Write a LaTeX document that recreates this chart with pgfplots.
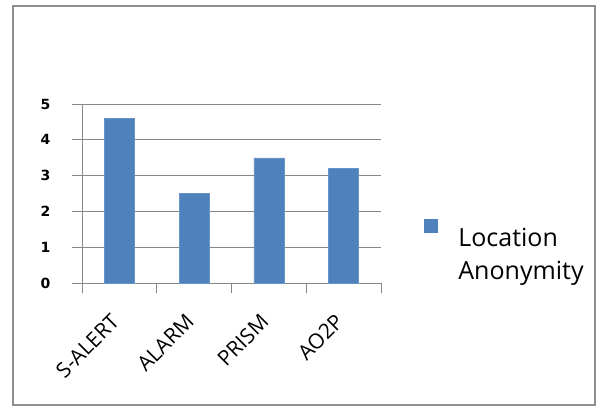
\documentclass[border=0pt]{standalone}
\usepackage{fontspec}
\setmainfont{Open Sans}
\newfontfamily\tickfont{DejaVu Sans Bold}
\usepackage{pgfplots}
\pgfplotsset{compat=1.18}
\definecolor{barblue}{HTML}{4F81BD}
\definecolor{gridgray}{HTML}{878787}
\definecolor{framegray}{HTML}{8E8E8E}
\begin{document}
\begin{tikzpicture}[x=1pt,y=1pt]
\path[use as bounding box] (0,0) rectangle (604,408);
\draw[framegray, line width=1.5pt] (13,3) rectangle (595,402);
\begin{axis}[
  at={(82pt,124.7pt)}, anchor=south west,
  scale only axis, width=299pt, height=179.3pt,
  xmin=-0.5, xmax=3.5, ymin=0, ymax=5,
  axis lines*=left,
  axis line style={gridgray, line width=1pt},
  ymajorgrids, grid style={gridgray, line width=1pt},
  tick align=outside, major tick length=10pt,
  tick style={gridgray, line width=1pt},
  /pgf/number format/assume math mode=true,
  ytick={0,1,2,3,4,5},
  yticklabel style={font=\tickfont\fontsize{14}{14}\selectfont, xshift=-18pt},
  xtick={-0.5,0.5,1.5,2.5,3.5}, xticklabels={},
  extra x ticks={0,1,2,3},
  extra x tick labels={S-ALERT,ALARM,PRISM,AO2P},
  extra x tick style={major tick length=0pt,
     xticklabel style={rotate=45, anchor=north east, font=\fontsize{21}{21}\selectfont, xshift=-24pt, yshift=-10.5pt}},
  legend style={draw=none, fill=none, inner sep=0pt, outer sep=0pt,
     at={(1.1438,0.356)}, anchor=north west,
     nodes={inner sep=0pt, font=\fontsize{25}{33}\selectfont},
     /tikz/every odd column/.append style={column sep=21pt}},
  legend cell align=left,
  legend image code/.code={\fill[barblue] (0pt,3pt) rectangle (13pt,16pt);},
]
\addplot[ybar, bar width=30pt, fill=barblue, draw=barblue!85!white] coordinates {(0,4.6) (1,2.5) (2,3.5) (3,3.2)};
\addlegendentry{\begin{tabular}[t]{@{}l@{}}Location\\Anonymity\end{tabular}}
\end{axis}
\end{tikzpicture}
\end{document}
